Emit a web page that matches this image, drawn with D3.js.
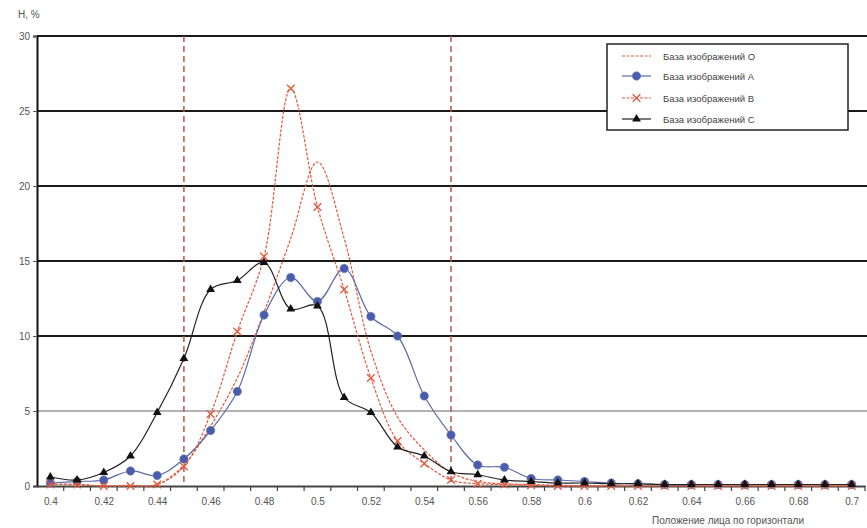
<!DOCTYPE html>
<html><head><meta charset="utf-8">
<script src="https://cdn.jsdelivr.net/npm/d3@7"></script>
<style>
html,body{margin:0;padding:0;background:#fff;}
svg{display:block;font-family:"Liberation Sans",Arial,sans-serif;}
</style></head>
<body>
<svg id="chart" width="867" height="528"></svg>
<script>
const categories = ["0.40","0.41","0.42","0.43","0.44","0.45","0.46","0.47","0.48","0.49","0.50","0.51","0.52","0.53","0.54","0.55","0.56","0.57","0.58","0.59","0.60","0.61","0.62","0.63","0.64","0.65","0.66","0.67","0.68","0.69","0.70"];
const tickLabels = ["0.4","0.42","0.44","0.46","0.48","0.5","0.52","0.54","0.56","0.58","0.6","0.62","0.64","0.66","0.68","0.7"];
const yTicks = [0,5,10,15,20,25,30];
const seriesNames = ["База изображений О","База изображений А","База изображений В","База изображений С"];
const valuesO = [0.1,0.1,0.0,0.05,0.1,1.4,4.0,7.2,11.6,16.5,21.6,16.5,9.0,4.6,2.4,0.9,0.3,0.15,0.1,0.05,0,0,0,0,0,0,0,0,0,0,0];
const valuesA = [0.2,0.3,0.4,1.0,0.7,1.8,3.7,6.3,11.4,13.9,12.3,14.5,11.3,10.0,6.0,3.4,1.4,1.25,0.5,0.4,0.3,0.2,0.15,0.1,0.1,0.1,0.1,0.1,0.1,0.1,0.1];
const valuesB = [0.1,0.1,0.0,0.0,0.1,1.3,4.8,10.3,15.3,26.5,18.6,13.1,7.2,3.0,1.5,0.4,0.15,0.1,0.05,0,0,0,0,0,0,0,0,0,0,0,0];
const valuesC = [0.6,0.4,0.9,2.0,4.9,8.5,13.1,13.7,14.9,11.8,12.0,5.9,4.9,2.6,2.0,0.95,0.75,0.4,0.3,0.2,0.2,0.15,0.15,0.1,0.1,0.1,0.1,0.1,0.1,0.1,0.1];
const markedLines = ["0.45","0.55"];
const yTitle = "Н, %";
const xTitle = "Положение лица по горизонтали";

const svg = d3.select("#chart");
const mLeft = 37, mRight = 865, mTop = 36, mBottom = 486;

const x = d3.scalePoint().domain(categories).range([mLeft, mRight]).padding(0.5);
const y = d3.scaleLinear().domain([0,30]).range([mBottom, mTop]);
const step = x.step();

// gridlines
svg.append("g").selectAll("line").data(yTicks.filter(d=>d>0)).join("line")
  .attr("x1", mLeft).attr("x2", 867)
  .attr("y1", d=>y(d)).attr("y2", d=>y(d))
  .attr("stroke", d=> d===5 ? "#9a9a9a" : "#1a1a1a")
  .attr("stroke-width", d=> d===5 ? 1.5 : 2);

// vertical dashed markers
svg.append("g").selectAll("line").data(markedLines).join("line")
  .attr("x1", d=>x(d)).attr("x2", d=>x(d))
  .attr("y1", mTop).attr("y2", mBottom)
  .attr("stroke", "#b4574c").attr("stroke-width", 1.5)
  .attr("stroke-dasharray", "6,4");

// y axis
const yAxis = d3.axisLeft(y).tickValues(yTicks).tickSize(4).tickPadding(3);
const gy = svg.append("g").attr("transform", `translate(${mLeft},0)`).call(yAxis);
gy.select(".domain").attr("stroke", "#111").attr("stroke-width", 2);
gy.selectAll(".tick line").attr("stroke", "#555");
gy.selectAll(".tick text").attr("font-size", 10).attr("fill", "#555");

// x axis
const xAxis = d3.axisBottom(x).tickValues(categories.filter((c,i)=>i%2===0)).tickSize(0).tickPadding(12)
  .tickFormat((d,i)=>tickLabels[i]);
const gx = svg.append("g").attr("transform", `translate(0,${mBottom})`).call(xAxis);
gx.select(".domain").attr("stroke", "#444").attr("stroke-width", 2);
gx.selectAll(".tick text").attr("font-size", 10).attr("fill", "#555");
// boundary ticks between categories
svg.append("g").selectAll("line").data(categories).join("line")
  .attr("x1", d=>x(d)+step/2).attr("x2", d=>x(d)+step/2)
  .attr("y1", mBottom).attr("y2", mBottom+5)
  .attr("stroke", "#444").attr("stroke-width", 1.2);

// titles
svg.append("text").attr("x", 18).attr("y", 18).attr("font-size", 10).attr("fill", "#555").text(yTitle);
svg.append("text").attr("x", 652).attr("y", 524).attr("font-size", 10).attr("fill", "#555").text(xTitle);

const line = d3.line().x((d,i)=>x(categories[i])).y(d=>y(d)).curve(d3.curveCatmullRom.alpha(0.5));

const series = [
  {name: seriesNames[0], values: valuesO, color: "#e4583c", lineColor: "#e4583c", marker: "none", dash: "3,1.5"},
  {name: seriesNames[1], values: valuesA, color: "#4a5cb0", lineColor: "#5a6aa8", marker: "circle", dash: null},
  {name: seriesNames[2], values: valuesB, color: "#e4583c", lineColor: "#e4583c", marker: "cross", dash: "3,1.5"},
  {name: seriesNames[3], values: valuesC, color: "#111", lineColor: "#222", marker: "triangle", dash: null}
];

function drawMarker(g, type, color, cx, cy){
  if(type==="circle"){
    g.append("circle").attr("cx",cx).attr("cy",cy).attr("r",4.2).attr("fill",color).attr("stroke","#7080a0").attr("stroke-width",0.6);
  } else if(type==="triangle"){
    g.append("path").attr("d", d3.symbol(d3.symbolTriangle, 34)()).attr("transform",`translate(${cx},${cy})`).attr("fill",color);
  } else if(type==="cross"){
    g.append("path").attr("d", d3.symbol(d3.symbolX, 40)()).attr("transform",`translate(${cx},${cy})`).attr("fill","none").attr("stroke",color).attr("stroke-width",1.3);
  }
}

series.forEach(s=>{
  const g = svg.append("g");
  g.append("path").attr("d", line(s.values)).attr("fill","none")
    .attr("stroke", s.lineColor).attr("stroke-width", 1.2)
    .attr("stroke-dasharray", s.dash);
  s.values.forEach((v,i)=> drawMarker(g, s.marker, s.color, x(categories[i]), y(v)));
});

// legend
const lg = svg.append("g");
lg.append("rect").attr("x",607).attr("y",44).attr("width",241).attr("height",86)
  .attr("fill","#fff").attr("stroke","#222").attr("stroke-width",1.5);
const legY = [56,76,98,119];
series.forEach((s,i)=>{
  const yy = legY[i];
  lg.append("line").attr("x1",622).attr("x2",651).attr("y1",yy).attr("y2",yy)
    .attr("stroke", s.lineColor).attr("stroke-width",1.2).attr("stroke-dasharray", s.dash);
  drawMarker(lg, s.marker, s.color, 636.5, yy);
  lg.append("text").attr("x",663).attr("y",yy+3.5).attr("font-size",9.5).attr("fill","#444").text(s.name);
});
</script>
</body></html>
